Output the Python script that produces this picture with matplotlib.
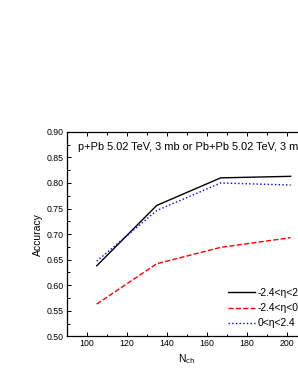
import matplotlib
matplotlib.use("Agg")
import matplotlib.pyplot as plt
from matplotlib.ticker import MultipleLocator

plt.rcParams['font.family'] = ['Liberation Sans', 'DejaVu Sans']

nch = [105, 135, 167, 202]
acc_full = [0.638, 0.756, 0.810, 0.813]
acc_back = [0.563, 0.642, 0.674, 0.693]
acc_fwd = [0.647, 0.746, 0.800, 0.796]
labels = ['-2.4<\u03b7<2.4', '-2.4<\u03b7<0', '0<\u03b7<2.4']
title = 'p+Pb 5.02 TeV, 3 mb or Pb+Pb 5.02 TeV, 3 mb'

fig = plt.figure(figsize=(2.98, 3.85), dpi=100)
ax = fig.add_axes([0.224, 0.1265, 0.805, 0.531])

ax.plot(nch, acc_full, color='black', lw=1.0, ls='-', label=labels[0])
ax.plot(nch, acc_back, color='red', lw=1.0, ls='--', label=labels[1])
ax.plot(nch, acc_fwd, color='blue', lw=1.0, ls=':', label=labels[2])

ax.set_xlim(90, 210)
ax.set_ylim(0.50, 0.90)
ax.xaxis.set_major_locator(MultipleLocator(20))
ax.xaxis.set_minor_locator(MultipleLocator(10))
ax.yaxis.set_major_locator(MultipleLocator(0.05))
ax.yaxis.set_minor_locator(MultipleLocator(0.025))
ax.yaxis.set_major_formatter(matplotlib.ticker.FormatStrFormatter('%.2f'))
ax.tick_params(which='both', direction='in', top=True, right=True, labelsize=6.3, width=0.7, pad=2)
ax.tick_params(which='major', length=3)
ax.tick_params(which='minor', length=1.8)
for s in ax.spines.values():
    s.set_linewidth(0.9)

ax.set_xlabel('N$_{\\rm ch}$', fontsize=7.5, labelpad=3)
ax.set_ylabel('Accuracy', fontsize=7.5, labelpad=3)

ax.text(0.048, 0.925, title, transform=ax.transAxes, fontsize=7.9, va='center', ha='left')

leg = ax.legend(loc='upper left', bbox_to_anchor=(0.672, 0.236), frameon=False,
                fontsize=7.4, handlelength=2.6, handletextpad=0.3, labelspacing=0.5,
                borderaxespad=0, borderpad=0)

fig.savefig('out.png', dpi=100)
